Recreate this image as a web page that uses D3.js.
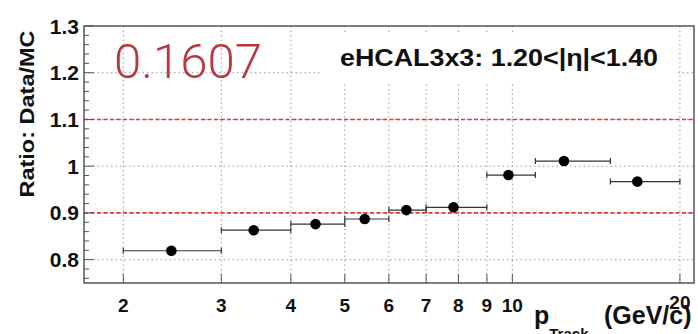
<!DOCTYPE html>
<html>
<head>
<meta charset="utf-8">
<script src="https://cdn.jsdelivr.net/npm/d3@7"></script>
<style>
  html, body { margin: 0; padding: 0; background: #fff; }
  svg { display: block; font-family: "Liberation Sans", Arial, Helvetica, sans-serif; }
</style>
</head>
<body>
<svg id="chart" width="698" height="334"></svg>
<script>
// Track momentum bins (GeV/c): low edge, high edge and point position
const binLow  = [2, 3, 4, 5, 6, 7, 9, 11, 15];
const binHigh = [3, 4, 5, 6, 7, 9, 11, 15, 20];
const pTrack  = [2.44, 3.43, 4.43, 5.43, 6.45, 7.84, 9.84, 12.38, 16.77];
// Data/MC response ratio per bin
const ratio   = [0.819, 0.863, 0.876, 0.887, 0.906, 0.912, 0.981, 1.011, 0.967];

const xTickValues = [2, 3, 4, 5, 6, 7, 8, 9, 10, 20];
const yTickValues = [0.8, 0.9, 1.0, 1.1, 1.2, 1.3];
const yTickLabels = ["0.8", "0.9", "1", "1.1", "1.2", "1.3"];
const refLines    = [0.9, 1.1];

const titleText = "eHCAL3x3: 1.20<|\u03b7|<1.40";
const valueText = "0.1607";

const svg = d3.select("#chart");
const frame = { left: 84, right: 694, top: 26, bottom: 283 };

const x = d3.scaleLog().domain([1.7, 21.2]).range([frame.left, frame.right]);
const y = d3.scaleLinear().domain([0.75, 1.3]).range([frame.bottom, frame.top]);

const points = ratio.map((r, i) => ({ lo: binLow[i], hi: binHigh[i], p: pTrack[i], r }));

// grid
const grid = svg.append("g").attr("stroke", "#9a9a9a").attr("stroke-width", 1)
  .attr("stroke-dasharray", "1.5,3");
grid.selectAll("line.vx").data(xTickValues).join("line")
  .attr("x1", d => x(d)).attr("x2", d => x(d))
  .attr("y1", frame.top).attr("y2", frame.bottom);
grid.selectAll("line.hy").data(yTickValues.filter(v => v < 1.29)).join("line")
  .attr("x1", frame.left).attr("x2", frame.right)
  .attr("y1", d => y(d)).attr("y2", d => y(d));

// reference lines at +-10%
svg.append("g").selectAll("line").data(refLines).join("line")
  .attr("x1", frame.left).attr("x2", frame.right)
  .attr("y1", d => y(d)).attr("y2", d => y(d))
  .attr("stroke", "#ee3333").attr("stroke-width", 1.6)
  .attr("stroke-dasharray", "4,2.5");

// label box covers the grid under the title
svg.append("rect").attr("x", 320).attr("y", 34).attr("width", 356).attr("height", 49)
  .attr("fill", "#fff");

svg.append("text").attr("x", 340).attr("y", 66)
  .attr("font-size", 24).attr("font-weight", "bold").attr("fill", "#111")
  .attr("textLength", 318).attr("lengthAdjust", "spacingAndGlyphs")
  .text(titleText);

svg.append("text").attr("x", 114).attr("y", 78)
  .attr("font-family", "Roboto, 'Liberation Sans', sans-serif")
  .attr("font-size", 48).attr("font-weight", 300).attr("fill", "#b8383f")
  .attr("textLength", 148).attr("lengthAdjust", "spacingAndGlyphs")
  .text(valueText);

// axis ticks drawn inside the frame
const axisG = svg.append("g").attr("stroke", "#555").attr("stroke-width", 1);
const yMinor = d3.range(0.76, 1.301, 0.02).filter(v => !yTickValues.some(t => Math.abs(t - v) < 1e-6));
axisG.selectAll("line.ymaj").data(yTickValues).join("line")
  .attr("x1", frame.left).attr("x2", frame.left + 10)
  .attr("y1", d => y(d)).attr("y2", d => y(d));
axisG.selectAll("line.ymin").data(yMinor).join("line")
  .attr("class", "ymin")
  .attr("x1", frame.left).attr("x2", frame.left + 5)
  .attr("y1", d => y(d)).attr("y2", d => y(d));
axisG.selectAll("line.xmaj").data(xTickValues).join("line")
  .attr("class", "xmaj")
  .attr("x1", d => x(d)).attr("x2", d => x(d))
  .attr("y1", frame.bottom).attr("y2", frame.bottom - 9);

// frame
svg.append("rect").attr("x", frame.left).attr("y", frame.top)
  .attr("width", frame.right - frame.left).attr("height", frame.bottom - frame.top)
  .attr("fill", "none").attr("stroke", "#555").attr("stroke-width", 1.5);

// tick labels
svg.append("g").selectAll("text").data(yTickValues).join("text")
  .attr("x", 79).attr("y", d => y(d) + 7.5)
  .attr("text-anchor", "end").attr("font-size", 21).attr("font-weight", "bold").attr("fill", "#111")
  .text((d, i) => yTickLabels[i]);
svg.append("g").selectAll("text").data(xTickValues).join("text")
  .attr("x", d => x(d)).attr("y", d => d === 20 ? 309 : 312)
  .attr("text-anchor", "middle").attr("font-size", 19).attr("font-weight", "bold").attr("fill", "#111")
  .text(d => d);

// axis titles
svg.append("text")
  .attr("transform", "translate(34,114) rotate(-90)")
  .attr("text-anchor", "middle").attr("font-size", 21).attr("font-weight", "bold").attr("fill", "#111")
  .attr("textLength", 167).attr("lengthAdjust", "spacingAndGlyphs")
  .text("Ratio: Data/MC");

const xt = svg.append("text").attr("x", 534).attr("y", 324)
  .attr("font-size", 25).attr("font-weight", "bold").attr("fill", "#111");
xt.append("tspan").text("p");
xt.append("tspan").attr("font-size", 15).attr("dy", 15).text("Track");
xt.append("tspan").attr("dy", -15).attr("x", 604).text("(GeV/c)");

// data: horizontal bin-width bars with end caps, then markers
const eb = svg.append("g").attr("stroke", "#333").attr("stroke-width", 1.2);
eb.selectAll("line.bar").data(points).join("line")
  .attr("x1", d => x(d.lo)).attr("x2", d => x(d.hi))
  .attr("y1", d => y(d.r)).attr("y2", d => y(d.r));
eb.selectAll("line.capL").data(points).join("line")
  .attr("class", "capL")
  .attr("x1", d => x(d.lo)).attr("x2", d => x(d.lo))
  .attr("y1", d => y(d.r) - 3).attr("y2", d => y(d.r) + 3);
eb.selectAll("line.capR").data(points).join("line")
  .attr("class", "capR")
  .attr("x1", d => x(d.hi)).attr("x2", d => x(d.hi))
  .attr("y1", d => y(d.r) - 3).attr("y2", d => y(d.r) + 3);

svg.append("g").selectAll("circle").data(points).join("circle")
  .attr("cx", d => x(d.p)).attr("cy", d => y(d.r)).attr("r", 5.3)
  .attr("fill", "#000");
</script>
</body>
</html>
